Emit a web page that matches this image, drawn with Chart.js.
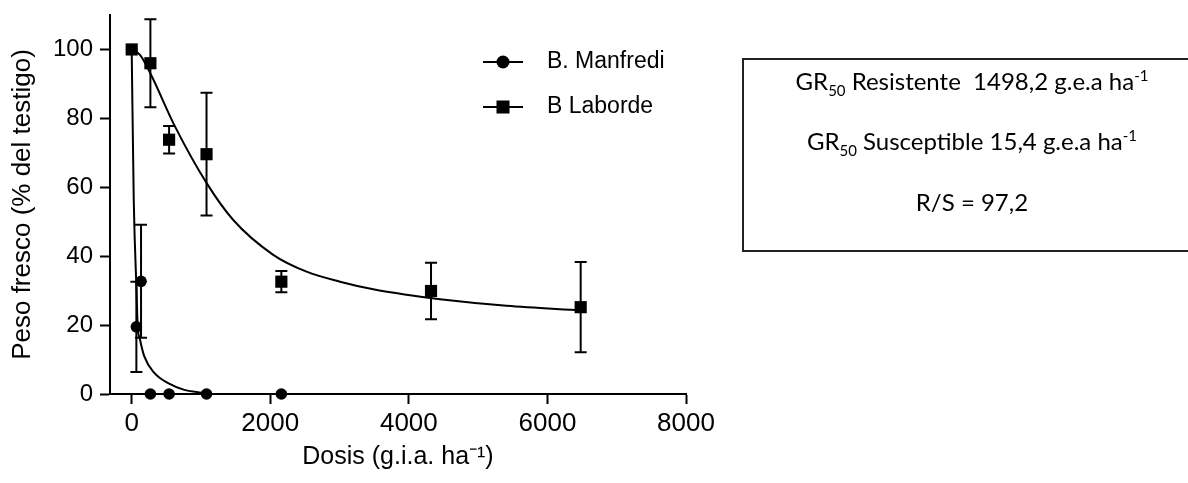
<!DOCTYPE html>
<html>
<head>
<meta charset="utf-8">
<script src="https://cdn.jsdelivr.net/npm/chart.js@4.4.1/dist/chart.umd.min.js"></script>
<style>
    html, body { margin: 0; background: #fff; overflow: hidden; }
    #wrap { position: relative; width: 1188px; height: 483px; overflow: hidden; }
    #info {
        position: absolute; left: 742px; top: 58px; width: 470px; height: 190px;
        border: 2px solid #222; border-right: none;
        font-family: Lato, "Open Sans", sans-serif; font-size: 24px; color: #000;
    }
    #info p { position: absolute; left: 0; width: 456px; margin: 0; text-align: center; line-height: 26px; }
    #info sub, #info sup { font-size: 15px; line-height: 0; }
</style>
</head>
<body>
<div id="wrap">
    <canvas id="chart"></canvas>
    <div id="info">
        <p style="top: 8px">GR<sub>50</sub> Resistente&nbsp; 1498,2 g.e.a ha<sup>-1</sup></p>
        <p style="top: 68px">GR<sub>50</sub> Susceptible 15,4 g.e.a ha<sup>-1</sup></p>
        <p style="top: 129px">R/S = 97,2</p>
    </div>
</div>
<script>
// observed means and error bars
const manfrediDoses = [0, 67.5, 135, 270, 540, 1080, 2160];
const manfrediPeso = [100, 19.5, 32.7, 0, 0, 0, 0];
const manfrediErr = [0, 13.1, 16.4, 0, 0, 0, 0];

const labordeDoses = [0, 270, 540, 1080, 2160, 4320, 6480];
const labordePeso = [100, 96, 73.8, 69.6, 32.6, 29.9, 25.2];
const labordeErr = [0, 12.8, 4, 17.8, 3.1, 8.2, 13.1];

// fitted curves
const manfrediCurveX = [0, 30, 70, 86, 120, 182, 327, 519, 760, 1024, 1080, 2160];
const manfrediCurveY = [100, 56, 30, 20, 15.8, 10.9, 6.1, 3.2, 1.2, 0.3, 0, 0];
const labordeCurveX = [0, 120, 270, 626, 1082, 1466, 2043, 2524, 3006, 3486, 3968, 4449, 5411, 6480];
const labordeCurveY = [100, 98.4, 93, 77.6, 61.2, 50.5, 40.4, 35.5, 32.6, 30.4, 28.8, 27.5, 25.6, 24.3];

const xTicks = [0, 2000, 4000, 6000, 8000];
const yTicks = [0, 20, 40, 60, 80, 100];

const FONT = "'Liberation Sans', Arial, sans-serif";

const pairs = (xs, ys) => xs.map((x, k) => ({x: x, y: ys[k]}));

function pointSet(label, style, radius, xs, ys, errs) {
    return {
        label: label,
        data: pairs(xs, ys),
        errors: errs,
        pointStyle: style,
        pointRadius: radius,
        pointBorderWidth: 0,
        backgroundColor: '#000',
        borderColor: '#000',
        showLine: false,
        clip: false,
    };
}

function curveSet(xs, ys) {
    return {
        data: pairs(xs, ys),
        showLine: true,
        pointRadius: 0,
        borderColor: '#000',
        borderWidth: 2,
        cubicInterpolationMode: 'monotone',
        clip: false,
    };
}

const errorBars = {
    id: 'errorBars',
    afterDatasetsDraw(chart) {
        const {ctx, scales: {x, y}} = chart;
        ctx.save();
        ctx.strokeStyle = '#000';
        ctx.lineWidth = 2;
        for (let ds of chart.data.datasets) {
            if (!ds.errors) continue;
            ds.data.forEach((p, k) => {
                let e = ds.errors[k];
                if (!e) return;
                let px = x.getPixelForValue(p.x);
                let top = y.getPixelForValue(p.y + e), bot = y.getPixelForValue(p.y - e);
                ctx.beginPath();
                ctx.moveTo(px, top); ctx.lineTo(px, bot);
                ctx.moveTo(px - 6, top); ctx.lineTo(px + 6, top);
                ctx.moveTo(px - 6, bot); ctx.lineTo(px + 6, bot);
                ctx.stroke();
            });
        }
        ctx.restore();
    }
};

const lineLegend = {
    id: 'lineLegend',
    afterDraw(chart) {
        const ctx = chart.ctx;
        let rows = chart.data.datasets.filter(ds => ds.errors);
        ctx.save();
        rows.forEach((ds, k) => {
            let yy = 62 + k * 45;
            ctx.strokeStyle = '#000';
            ctx.lineWidth = 2;
            ctx.beginPath();
            ctx.moveTo(483, yy); ctx.lineTo(523, yy);
            ctx.stroke();
            ctx.fillStyle = '#000';
            if (ds.pointStyle === 'rect') {
                ctx.fillRect(503 - 6.5, yy - 6.5, 13, 13);
            } else {
                ctx.beginPath();
                ctx.arc(503, yy, 6.5, 0, 2 * Math.PI);
                ctx.fill();
            }
            ctx.font = `23px ${FONT}`;
            ctx.textBaseline = 'middle';
            ctx.fillText(ds.label, 547, yy);
        });
        ctx.restore();
    }
};

const config = {
    type: 'scatter',
    data: {
        datasets: [
            pointSet('B. Manfredi', 'circle', 5.8, manfrediDoses, manfrediPeso, manfrediErr),
            pointSet('B Laborde', 'rect', 8.6, labordeDoses, labordePeso, labordeErr),
            curveSet(manfrediCurveX, manfrediCurveY),
            curveSet(labordeCurveX, labordeCurveY),
        ],
    },
    options: {
        responsive: true,
        maintainAspectRatio: false,
        animation: false,
        layout: {padding: {top: 15, right: 502, left: 0, bottom: 0}},
        plugins: {legend: {display: false}, tooltip: {enabled: false}},
    },
    plugins: [errorBars, lineLegend],
};

config.options.scales = {
    x: {
        type: 'linear',
        min: -313,
        max: 8000,
        afterBuildTicks: (s) => { s.ticks = xTicks.map(v => ({value: v})); },
        afterFit: (s) => { s.height = 89; },
        grid: {drawOnChartArea: false, drawTicks: true, tickLength: 10, tickWidth: 2, tickColor: '#000'},
        border: {display: true, color: '#000', width: 2},
        ticks: {color: '#000', font: {family: FONT, size: 26}, padding: 4, maxRotation: 0, autoSkip: false,
                callback: (v) => String(v)},
        title: {display: true, text: 'Dosis (g.i.a. ha⁻¹)', color: '#000', font: {family: FONT, size: 25}, padding: {top: 0, bottom: 11}},
    },
    y: {
        type: 'linear',
        min: 0,
        max: 110,
        afterBuildTicks: (s) => { s.ticks = yTicks.map(v => ({value: v})); },
        afterFit: (s) => { s.width = 110; s.paddingTop = 0; s.paddingBottom = 0; },
        grid: {drawOnChartArea: false, drawTicks: true, tickLength: 10, tickWidth: 2, tickColor: '#000'},
        border: {display: true, color: '#000', width: 2},
        ticks: {color: '#000', font: {family: FONT, size: 24}, padding: 7},
        title: {display: true, text: 'Peso fresco (% del testigo)', color: '#000', font: {family: FONT, size: 26}, padding: {top: 7, bottom: 0}},
    },
};

window.addEventListener('DOMContentLoaded', () => {
    new Chart('chart', config);
});
</script>
</body>
</html>
